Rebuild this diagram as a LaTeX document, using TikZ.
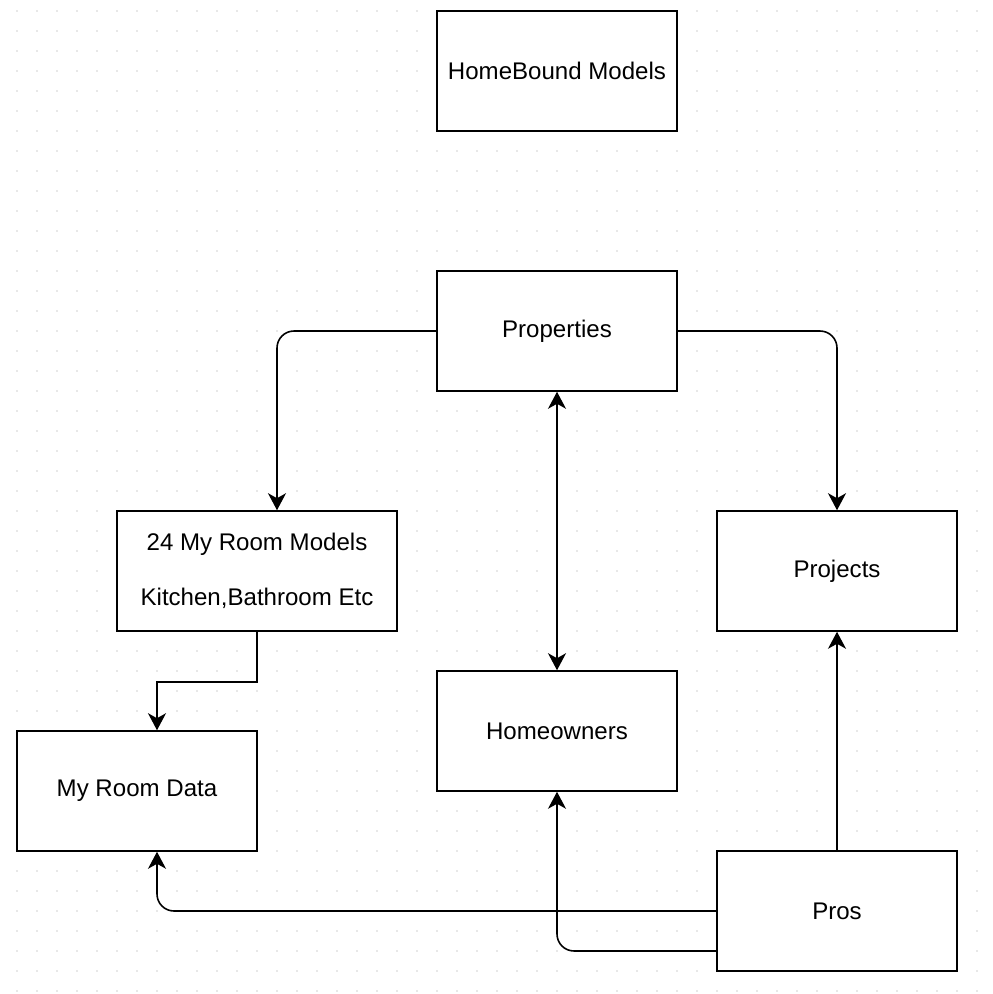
\documentclass[tikz,border=0pt]{standalone}
\usepackage{fontspec}
\setmainfont{Liberation Sans}
\usetikzlibrary{arrows.meta,positioning}

\tikzset{
	>={Stealth[length=0.34cm, width=0.36cm, inset=0.1cm]},
	model/.style={draw, fill=white, line width=0.9pt, minimum width=4.8cm,
		minimum height=2.4cm, inner sep=0pt, align=center,
		font=\fontsize{13.7}{31}\selectfont},
	link/.style={line width=0.9pt, rounded corners=0.34cm, ->},
	griddot/.style={fill=black!18},
}

\begin{document}
\begin{tikzpicture}[x=0.02cm, y=-0.02cm]
	\useasboundingbox (0,0) rectangle (992,994);
	% dotted background
	\foreach \i in {0,...,48} {
		\foreach \j in {0,...,49} {
			\fill[griddot] (17+20*\i, 11+20*\j) circle (0.8);
		}
	}

	\node[model] (homebound) at (557,71) {HomeBound Models};
	\node[model] (props) at (557,331) {Properties};
	\node[model, minimum width=5.6cm] (rooms) at (257,571) {24 My Room Models\\Kitchen,Bathroom Etc};
	\node[model] (projects) at (837,571) {Projects};
	\node[model] (owners) at (557,731) {Homeowners};
	\node[model] (roomdata) at (137,791) {My Room Data};
	\node[model] (pros) at (837,911) {Pros};

	\draw[link] (props.west) -| ([xshift=0.4cm]rooms.north);
	\draw[link] (props.east) -| (projects.north);
	\draw[link, <->] (props.south) -- (owners.north);
	\draw[link, rounded corners=0pt] (rooms.south) -- ++(0,50) -| ([xshift=0.4cm]roomdata.north);
	\draw[link] (pros.north) -- (projects.south);
	\draw[link] (pros.west) -| ([xshift=0.4cm]roomdata.south);
	\draw[link] ([yshift=-0.8cm]pros.west) -| (owners.south);
\end{tikzpicture}
\end{document}
